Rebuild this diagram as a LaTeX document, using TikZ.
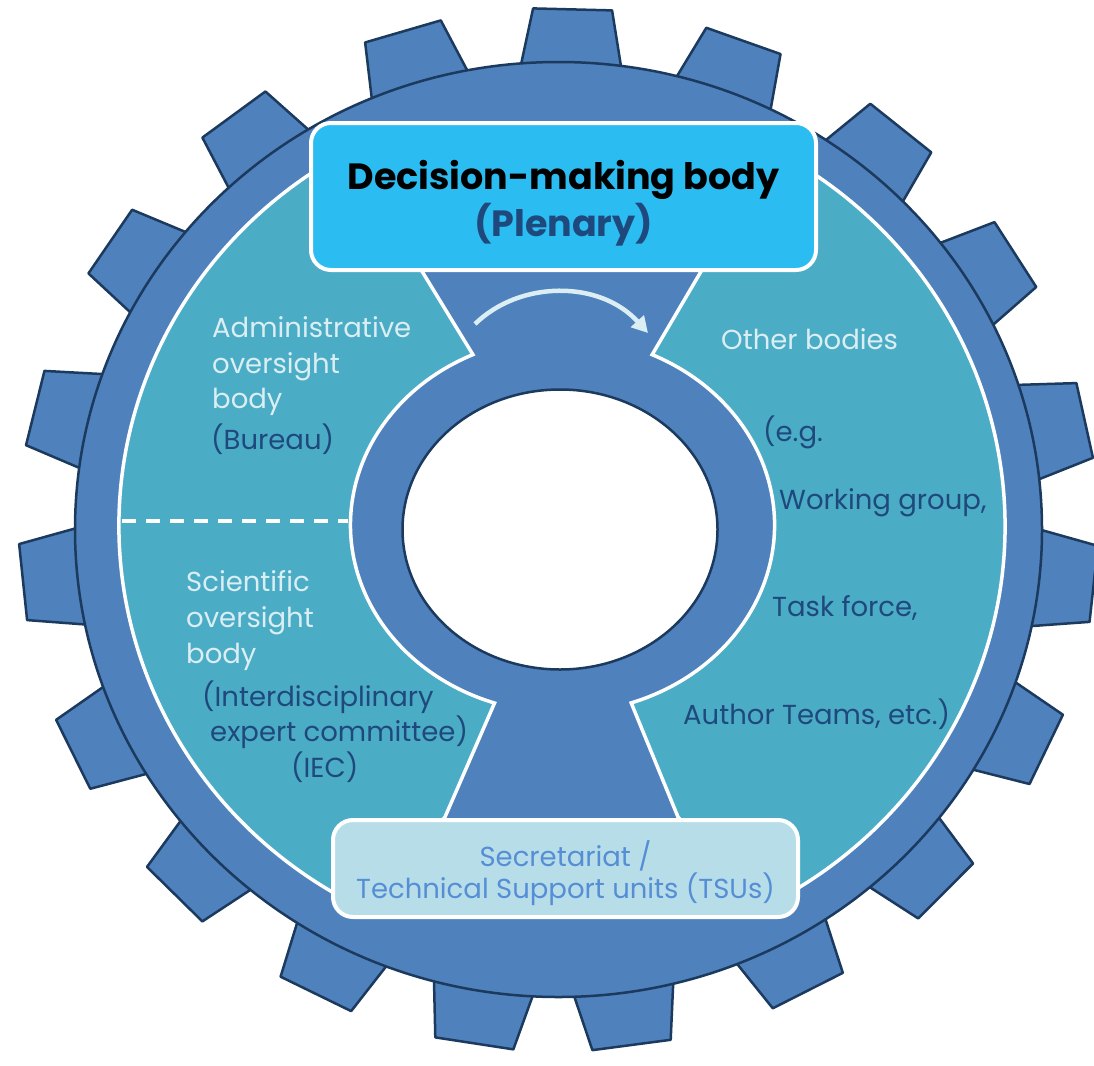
\documentclass[tikz,border=0pt]{standalone}
\usepackage{fontspec}
\setmainfont{Poppins}
\usetikzlibrary{arrows.meta}
\definecolor{gearblue}{HTML}{4F81BD}
\definecolor{gearline}{HTML}{1B3A5E}
\definecolor{tealc}{HTML}{4BACC6}
\definecolor{topfill}{HTML}{2BBDF1}
\definecolor{darktxt}{HTML}{1F497D}
\definecolor{lighttxt}{HTML}{DAEEF3}
\definecolor{botfill}{HTML}{B7DEE8}
\definecolor{bottxt}{HTML}{558ED5}
\begin{document}
\begin{tikzpicture}[x=1pt,y=-1pt,
  tooth/.style={fill=gearblue,draw=gearline,line width=2.5pt,line join=round},
  bodyshape/.style={fill=gearblue,draw=gearline,line width=2.5pt},
  tealpiece/.style={fill=tealc,draw=white,line width=3.5pt,line join=miter},
  holeshape/.style={fill=white,draw=gearline,line width=2.5pt},
  boxbase/.style={draw=white,line width=4pt,rounded corners=20pt,inner sep=0pt},
  hdr/.style={font=\fontsize{36.5}{40}\selectfont\bfseries,anchor=base,inner sep=0pt},
  lab/.style={font=\fontsize{27.5}{32}\selectfont,anchor=base west,inner sep=0pt},
  labc/.style={font=\fontsize{27.5}{32}\selectfont,anchor=base,inner sep=0pt},
  arrowc/.style={draw=lighttxt,line width=4.5pt,-{Triangle[length=16pt,width=17pt]}},
  dashedline/.style={draw=white,line width=3.5pt,dash pattern=on 14pt off 10pt}
]
\useasboundingbox (0,0) rectangle (1094,1065);

% teeth
\foreach \a in {88.5,69.9,50.5,31.9,12.1,-6.0,-25.0,-44.0,-62.4,-82.2,-99.0,-116.8,-135.5,-154.4,-174.2,166.5,146.4,127.1,106.8}{
  \draw[tooth] ({558.5+459.3*cos(\a-6.8)},{529.5-444.1*sin(\a-6.8)})
    -- ({558.5+539.6*cos(\a-4.2)},{529.5-521.7*sin(\a-4.2)})
    -- ({558.5+539.6*cos(\a+4.2)},{529.5-521.7*sin(\a+4.2)})
    -- ({558.5+459.3*cos(\a+6.8)},{529.5-444.1*sin(\a+6.8)}) -- cycle;
}
% body
\draw[bodyshape] (558.5,529.5) ellipse [x radius=483.5, y radius=467.5];

% teal pieces
\draw[tealpiece] (365,909.4) arc[start angle=116.4, end angle=241.2, x radius=443, y radius=428]
  -- (472.9,354.6) arc[start angle=245, end angle=108.7, x radius=212, y radius=188]
  -- (445,817) -- cycle;
\draw[tealpiece] (772.7,149.5) arc[start angle=-61.6, end angle=63.6, x radius=443, y radius=428]
  -- (678,817) -- (631.2,702.9) arc[start angle=71.1, end angle=-65, x radius=212, y radius=188]
  -- cycle;

\draw[dashedline] (122,521) -- (348,521);

% hole
\draw[holeshape] (560,529.5) ellipse [x radius=157.5, y radius=140];

% arrow
\coordinate (arrS) at (475,324);
\coordinate (arrE) at (648,333);
\draw[arrowc] (arrS) .. controls (520,280) and (600,280) .. (arrE);

% boxes
\node[boxbase, fill=topfill, minimum width=505pt, minimum height=147pt] (topbox) at (563.5,196.5) {};
\node[boxbase, fill=botfill, minimum width=465pt, minimum height=97pt] (botbox) at (565.5,868.5) {};

\node[hdr, text=black] (h1) at (563.5,189) {Decision-making body};
\node[hdr, text=darktxt] (h2) at (563.5,236) {(Plenary)};

% left upper
\node[lab, text=lighttxt] (a1) at (212,337) {Administrative};
\node[lab, text=lighttxt] (a2) at (212,373) {oversight};
\node[lab, text=lighttxt] (a3) at (212,408) {body};
\node[lab, text=darktxt] (a4) at (211,449) {(Bureau)};

% left lower
\node[lab, text=lighttxt] (s1) at (186,591) {Scientific};
\node[lab, text=lighttxt] (s2) at (186,627) {oversight};
\node[lab, text=lighttxt] (s3) at (186,663) {body};
\node[lab, text=darktxt] (s4) at (202,706) {(Interdisciplinary};
\node[lab, text=darktxt] (s5) at (210,741) {expert committee)};
\node[lab, text=darktxt] (s6) at (291,777) {(IEC)};

% right
\node[lab, text=lighttxt] (o1) at (721,349) {Other bodies};
\node[lab, text=darktxt] (o2) at (763,441) {(e.g.};
\node[lab, text=darktxt] (o3) at (779,509) {Working group,};
\node[lab, text=darktxt] (o4) at (772,616) {Task force,};
\node[lab, text=darktxt] (o5) at (683,724) {Author Teams, etc.)};

% bottom box text
\node[labc, text=bottxt] (b1) at (565.5,866) {Secretariat /};
\node[labc, text=bottxt] (b2) at (565.5,898) {Technical Support units (TSUs)};
\end{tikzpicture}
\end{document}
